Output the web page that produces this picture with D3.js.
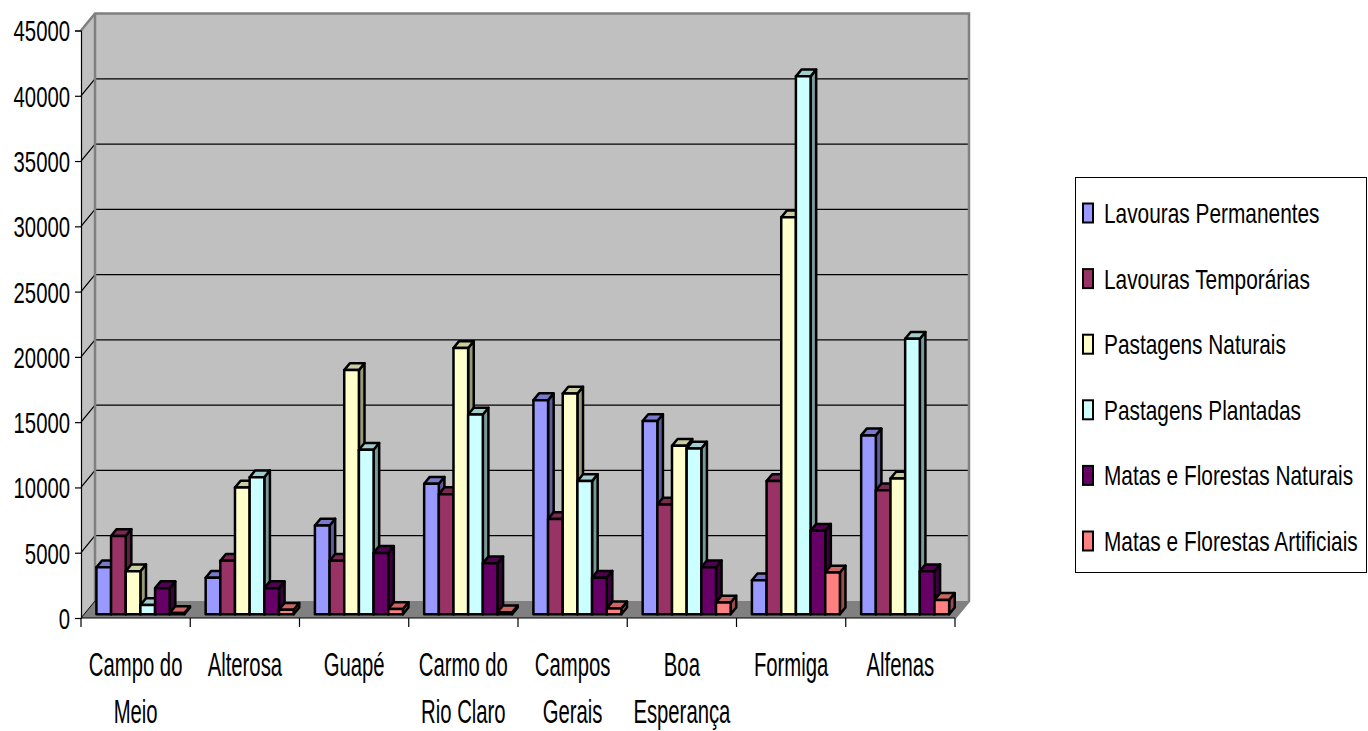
<!DOCTYPE html>
<html>
<head>
<meta charset="utf-8">
<script src="https://cdn.jsdelivr.net/npm/d3@7"></script>
<style>
  html, body { margin: 0; padding: 0; background: #fff; }
  svg { display: block; }
  text { font-family: "Liberation Sans", Arial, sans-serif; fill: #000; }
</style>
</head>
<body>
<script>
// Municipalities (categories) and their wrapped label lines
const categories = ["Campo do Meio", "Alterosa", "Guapé", "Carmo do Rio Claro",
                    "Campos Gerais", "Boa Esperança", "Formiga", "Alfenas"];
const categoryLines = [["Campo do", "Meio"], ["Alterosa"], ["Guapé"], ["Carmo do", "Rio Claro"],
                       ["Campos", "Gerais"], ["Boa", "Esperança"], ["Formiga"], ["Alfenas"]];

// Land use series (hectares)
const seriesNames = ["Lavouras Permanentes", "Lavouras Temporárias", "Pastagens Naturais",
                     "Pastagens Plantadas", "Matas e Florestas Naturais", "Matas e Florestas Artificiais"];
const lavourasPermanentes = [3600, 2800, 6800, 10000, 16400, 14800, 2600, 13700];
const lavourasTemporarias = [6000, 4100, 4100, 9200, 7300, 8400, 10200, 9500];
const pastagensNaturais   = [3300, 9700, 18700, 20400, 16900, 12900, 30400, 10400];
const pastagensPlantadas  = [700, 10500, 12600, 15300, 10200, 12700, 41200, 21100];
const matasNaturais       = [2000, 2000, 4700, 3900, 2800, 3600, 6400, 3300];
const matasArtificiais    = [100, 350, 400, 150, 450, 900, 3200, 1100];
const seriesValues = [lavourasPermanentes, lavourasTemporarias, pastagensNaturais,
                      pastagensPlantadas, matasNaturais, matasArtificiais];
const seriesColors = ["#9999FF", "#993366", "#FFFFCC", "#CCFFFF", "#660066", "#FF8080"];

const yTicks = [0, 5000, 10000, 15000, 20000, 25000, 30000, 35000, 40000, 45000];

// ---- layout ----
const W = 1368, H = 731;
const X0 = 81, X1 = 955, Y0 = 618, YTOP = 30.5;
const DX = 14, DY = 17;        // projected offset of full depth
const Z0 = 0.22, Z1 = 0.62;    // depth span occupied by bars

const proj = (x, y, z) => [x + DX * z, y - DY * z];
const pts = arr => arr.map(p => p.join(",")).join(" ");

const svg = d3.select("body").append("svg").attr("width", W).attr("height", H);

const y = d3.scaleLinear().domain([0, 45000]).range([Y0, YTOP]);
const x = d3.scaleBand().domain(categories).range([X0, X1]).paddingInner(0).paddingOuter(0);
const xs = d3.scaleBand().domain(d3.range(seriesNames.length)).range([0, x.bandwidth()])
  .paddingInner(0).paddingOuter(0.725).align(0.58);

// back wall, side wall, floor
svg.append("polygon")
  .attr("points", pts([proj(X0, YTOP, 1), proj(X1, YTOP, 1), proj(X1, Y0, 1), proj(X0, Y0, 1)]))
  .attr("fill", "#C0C0C0");
svg.append("polygon")
  .attr("points", pts([proj(X0, YTOP, 0), proj(X0, YTOP, 1), proj(X0, Y0, 1), proj(X0, Y0, 0)]))
  .attr("fill", "#C0C0C0");
svg.append("polygon")
  .attr("points", pts([proj(X0, Y0, 0), proj(X1, Y0, 0), proj(X1, Y0, 1), proj(X0, Y0, 1)]))
  .attr("fill", "#808080");

// gridlines on back and side walls
const grid = svg.append("g").attr("stroke", "#000").attr("stroke-width", 1.2).attr("fill", "none");
yTicks.filter(t => t > 0 && t < 45000).forEach(t => {
  grid.append("polyline")
    .attr("points", pts([proj(X0, y(t), 0), proj(X0, y(t), 1), proj(X1, y(t), 1)]));
});

// wall edges
svg.append("polyline")
  .attr("points", pts([proj(X0, YTOP, 0), proj(X0, YTOP, 1), proj(X1, YTOP, 1), proj(X1, Y0, 1), proj(X1, Y0, 0)]))
  .attr("fill", "none").attr("stroke", "#808080").attr("stroke-width", 2.5);
svg.append("line")
  .attr("x1", proj(X0, YTOP, 1)[0]).attr("y1", proj(X0, YTOP, 1)[1])
  .attr("x2", proj(X0, Y0, 1)[0]).attr("y2", proj(X0, Y0, 1)[1])
  .attr("stroke", "#808080").attr("stroke-width", 2.5);
svg.append("line")
  .attr("x1", proj(X0, Y0, 1)[0]).attr("y1", proj(X0, Y0, 1)[1])
  .attr("x2", proj(X0, Y0, 0)[0]).attr("y2", proj(X0, Y0, 0)[1])
  .attr("stroke", "#000").attr("stroke-width", 1);

// bars
const shade = (c, k) => { const q = d3.rgb(c); return d3.rgb(q.r * k, q.g * k, q.b * k).formatHex(); };
const bars = svg.append("g").attr("stroke", "#000").attr("stroke-width", 2.5).attr("stroke-linejoin", "round");
categories.forEach((cat, ci) => {
  seriesValues.forEach((vals, si) => {
    const v = vals[ci];
    const xl = x(cat) + xs(si), xr = xl + xs.bandwidth();
    const yv = y(v), yb = y(0);
    const col = seriesColors[si];
    const g = bars.append("g");
    g.append("polygon")
      .attr("points", pts([proj(xr, yb, Z0), proj(xr, yv, Z0), proj(xr, yv, Z1), proj(xr, yb, Z1)]))
      .attr("fill", shade(col, 0.6));
    g.append("polygon")
      .attr("points", pts([proj(xl, yv, Z0), proj(xr, yv, Z0), proj(xr, yv, Z1), proj(xl, yv, Z1)]))
      .attr("fill", shade(col, 0.8));
    g.append("polygon")
      .attr("points", pts([proj(xl, yb, Z0), proj(xr, yb, Z0), proj(xr, yv, Z0), proj(xl, yv, Z0)]))
      .attr("fill", col);
  });
});

// value axis
const yAxis = svg.append("g").attr("transform", `translate(${X0},0)`)
  .call(d3.axisLeft(y).tickValues(yTicks).tickSize(6).tickPadding(5).tickFormat(d3.format("d")));
yAxis.select(".domain").attr("stroke", "#000").attr("stroke-width", 1.2);
yAxis.selectAll(".tick line").attr("stroke", "#000").attr("stroke-width", 1.2);
yAxis.selectAll(".tick text")
  .attr("x", 0).attr("dy", "0.36em")
  .attr("transform", "translate(-11,0) scale(0.7,1)")
  .attr("font-size", 29).attr("font-family", null).attr("fill", "#000");

// category axis
const xAxis = svg.append("g").attr("stroke", "#000").attr("stroke-width", 1.2);
xAxis.append("line").attr("x1", X0).attr("x2", X1).attr("y1", Y0).attr("y2", Y0);
categories.concat([null]).forEach(cat => {
  const xx = cat === null ? X1 : x(cat);
  xAxis.append("line").attr("x1", xx).attr("x2", xx).attr("y1", Y0).attr("y2", Y0 + 9);
});
categories.forEach((cat, ci) => {
  const cx = x(cat) + x.bandwidth() / 2;
  categoryLines[ci].forEach((ln, li) => {
    svg.append("text")
      .attr("transform", `translate(${cx},${676 + li * 47}) scale(0.615,1)`)
      .attr("text-anchor", "middle").attr("font-size", 33)
      .text(ln);
  });
});

// legend
const lg = svg.append("g");
lg.append("rect").attr("x", 1075.5).attr("y", 177.5).attr("width", 291).attr("height", 395)
  .attr("fill", "#fff").attr("stroke", "#000").attr("stroke-width", 1);
seriesNames.forEach((name, i) => {
  const cy = 213 + i * 65.6;
  lg.append("rect").attr("x", 1083).attr("y", cy - 9.5).attr("width", 10).attr("height", 19)
    .attr("fill", seriesColors[i]).attr("stroke", "#000").attr("stroke-width", 2);
  lg.append("text")
    .attr("transform", `translate(1104,${cy + 10}) scale(0.745,1)`)
    .attr("font-size", 28).text(name);
});
</script>
</body>
</html>
